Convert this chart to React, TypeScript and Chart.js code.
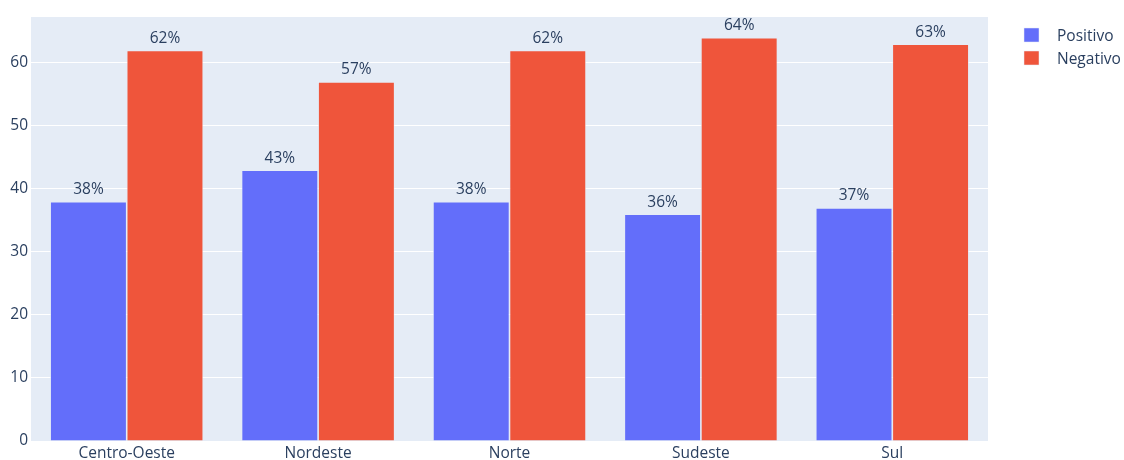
import React, { useEffect, useRef } from "react";
import { Chart, registerables } from "chart.js";

Chart.register(...registerables);

const categories = ["Centro-Oeste", "Nordeste", "Norte", "Sudeste", "Sul"];
const positivo = [38, 43, 38, 36, 37];
const negativo = [62, 57, 62, 64, 63];
const seriesNames = ["Positivo", "Negativo"];
const seriesColors = ["#636EFA", "#EF553B"];
const yMax = 67.3;

const FONT = "'Open Sans', 'Noto Sans', sans-serif";
const TEXT = "#2a3f5f";
const FS = 15.5;

const bgPlugin = {
  id: "bgPlot",
  beforeDraw(chart: any) {
    const { ctx, chartArea } = chart;
    ctx.save();
    ctx.fillStyle = "#E5ECF6";
    ctx.fillRect(chartArea.left, chartArea.top, chartArea.right - chartArea.left, chartArea.bottom - chartArea.top);
    ctx.restore();
  },
};

const labelsPlugin = {
  id: "barLabels",
  afterDatasetsDraw(chart: any) {
    const { ctx } = chart;
    ctx.save();
    ctx.font = `${FS}px ${FONT}`;
    ctx.fillStyle = TEXT;
    ctx.textAlign = "center";
    ctx.textBaseline = "alphabetic";
    chart.data.datasets.forEach((ds: any, i: number) => {
      const meta = chart.getDatasetMeta(i);
      meta.data.forEach((bar: any, j: number) => {
        ctx.fillText(`${ds.data[j]}%`, bar.x, bar.y - 7.5);
      });
    });
    ctx.restore();
  },
};

const legendPlugin = {
  id: "customLegend",
  afterDraw(chart: any) {
    const { ctx } = chart;
    ctx.save();
    ctx.font = `${FS}px ${FONT}`;
    ctx.textBaseline = "middle";
    ctx.textAlign = "left";
    seriesNames.forEach((name, i) => {
      const y = 35 + i * 23;
      ctx.fillStyle = seriesColors[i];
      ctx.fillRect(1024, y - 7, 15, 14);
      ctx.strokeStyle = "#E5ECF6";
      ctx.lineWidth = 0.5;
      ctx.strokeRect(1024, y - 7, 15, 14);
      ctx.fillStyle = TEXT;
      ctx.fillText(name, 1057, y + 1.5);
    });
    ctx.restore();
  },
};

export default function App() {
  const ref = useRef<HTMLCanvasElement>(null);
  useEffect(() => {
    document.body.style.margin = "0";
    const chart = new Chart(ref.current!, {
      type: "bar",
      data: {
        labels: categories,
        datasets: [
          {
            label: seriesNames[0],
            data: positivo,
            backgroundColor: seriesColors[0],
            borderColor: "rgba(229,236,246,0.8)",
            borderWidth: 0.8,
            categoryPercentage: 0.8,
            barPercentage: 1.0,
          },
          {
            label: seriesNames[1],
            data: negativo,
            backgroundColor: seriesColors[1],
            borderColor: "rgba(229,236,246,0.8)",
            borderWidth: 0.8,
            categoryPercentage: 0.8,
            barPercentage: 1.0,
          },
        ],
      },
      options: {
        animation: false,
        responsive: true,
        maintainAspectRatio: false,
        layout: { padding: { left: 0, right: 136, top: 17, bottom: 0 } },
        plugins: { legend: { display: false }, tooltip: { enabled: false } },
        scales: {
          x: {
            grid: { display: false, drawTicks: false, tickLength: 0 },
            border: { display: false },
            ticks: { color: TEXT, font: { family: FONT, size: FS }, padding: 3 },
            afterFit(axis: any) {
              axis.height = 19;
            },
          },
          y: {
            min: 0,
            max: yMax,
            grid: { color: "#ffffff", lineWidth: 1, drawTicks: false },
            border: { display: false },
            ticks: { color: TEXT, font: { family: FONT, size: FS }, padding: 3, stepSize: 10 },
            afterBuildTicks(axis: any) {
              axis.ticks = axis.ticks.filter((t: any) => t.value % 10 === 0);
            },
            afterFit(axis: any) {
              axis.width = 31;
            },
          },
        },
      },
      plugins: [bgPlugin, labelsPlugin, legendPlugin],
    });
    return () => chart.destroy();
  }, []);
  return (
    <div style={{ position: "absolute", left: 0, top: 0, width: 1124, height: 460, background: "#fff" }}>
      <canvas ref={ref} />
    </div>
  );
}
